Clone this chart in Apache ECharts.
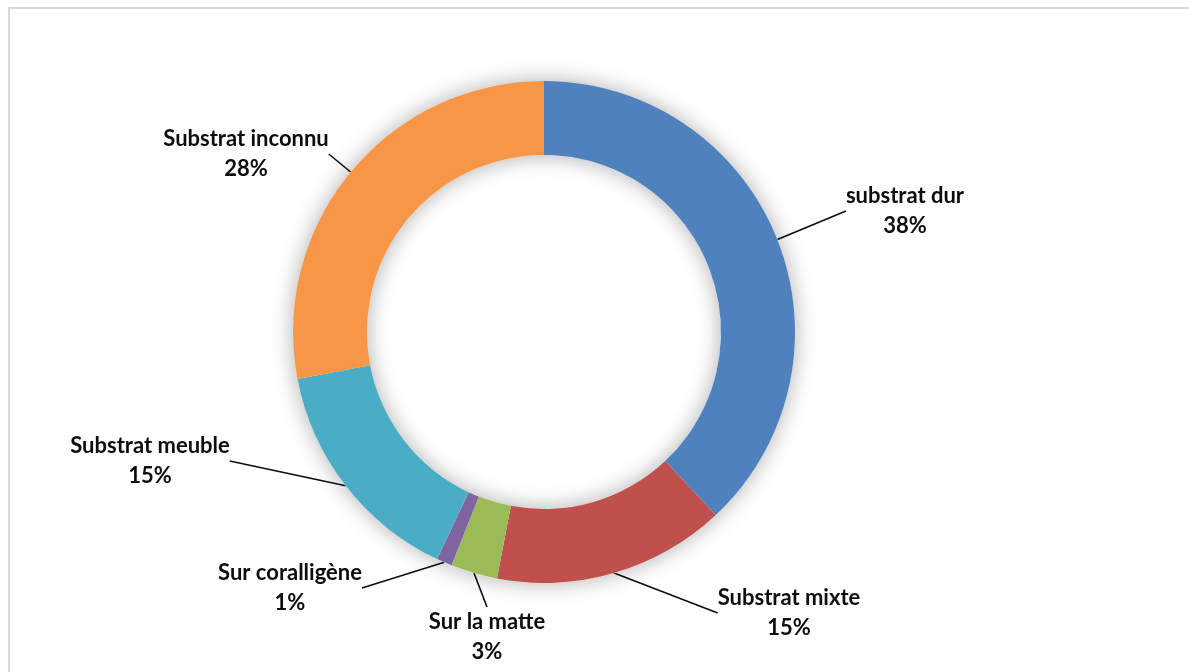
<!DOCTYPE html>
<html>
<head>
<meta charset="utf-8">
<script src="https://cdn.jsdelivr.net/npm/echarts@6/dist/echarts.min.js"></script>
<style>
  html, body { margin: 0; padding: 0; background: #fff; }
  #frame { position: absolute; left: 8px; top: 7px; width: 1300px; height: 800px; border-left: 2px solid #d9d9d9; border-top: 2px solid #d9d9d9; }
  #chart { position: absolute; left: 0; top: 0; width: 1189px; height: 672px; }
</style>
</head>
<body>
<div id="frame"></div>
<div id="chart"></div>
<script>
const categories = ['substrat dur', 'Substrat mixte', 'Sur la matte', 'Sur coralligène', 'Substrat meuble', 'Substrat inconnu'];
const values = [38, 15, 3, 1, 15, 28];
const colors = ['#4F81BD', '#C0504D', '#9BBB59', '#8064A2', '#4BACC6', '#F79646'];

// label block centres (layout only)
const labelPos = [[905, 211], [789, 613], [487, 637], [290, 588], [150, 461], [246, 154]];

const total = values.reduce((a, b) => a + b, 0);
const chart = echarts.init(document.getElementById('chart'), null, { renderer: 'canvas' });
chart.setOption({
  backgroundColor: 'transparent',
  animation: false,
  series: [
    {
      type: 'pie',
      silent: true,
      center: [544, 332],
      radius: [177, 251],
      startAngle: 90,
      label: { show: false },
      labelLine: { show: false },
      itemStyle: { color: '#ffffff', shadowBlur: 22, shadowColor: 'rgba(0,0,0,0.32)', shadowOffsetX: 0, shadowOffsetY: 0 },
      data: [{ value: total, name: 'shadow' }]
    },
    {
      type: 'pie',
      center: [544, 332],
      radius: [177, 251],
      startAngle: 90,
      clockwise: true,
      avoidLabelOverlap: false,
      itemStyle: { borderWidth: 0 },
      label: {
        show: true,
        position: 'outside',
        formatter: '{b}\n{d}%',
        fontFamily: 'Lato, "Open Sans", sans-serif',
        fontWeight: 'bold',
        fontSize: 22,
        lineHeight: 30,
        color: '#0d0d0d',
        align: 'center'
      },
      labelLine: { show: true, length: 20, length2: 0, lineStyle: { color: '#0d0d0d', width: 1.6 } },
      labelLayout: function (p) {
        const pos = labelPos[p.dataIndex];
        return { x: pos[0], y: pos[1], align: 'center', verticalAlign: 'middle' };
      },
      data: categories.map((c, i) => ({ name: c, value: values[i], itemStyle: { color: colors[i] } }))
    }
  ]
});
</script>
</body>
</html>
